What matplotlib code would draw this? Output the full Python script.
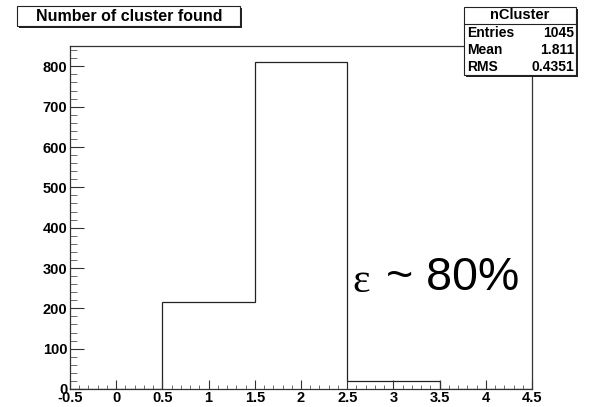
import matplotlib
matplotlib.use("Agg")
import matplotlib.pyplot as plt
from matplotlib.patches import Rectangle
from matplotlib.ticker import MultipleLocator
import numpy as np

# Histogram of the number of clusters found per event
bin_edges = [-0.5, 0.5, 1.5, 2.5, 3.5, 4.5]
counts = [0, 216, 810, 19, 0]
x_ticks = [-0.5, 0, 0.5, 1, 1.5, 2, 2.5, 3, 3.5, 4, 4.5]
x_tick_labels = ["-0.5", "0", "0.5", "1", "1.5", "2", "2.5", "3", "3.5", "4", "4.5"]
y_ticks = [0, 100, 200, 300, 400, 500, 600, 700, 800]

title = "Number of cluster found"
stats_name = "nCluster"
stats_rows = [("Entries", "1045"), ("Mean", "1.811"), ("RMS", "0.4351")]

W, H = 589, 407
fig = plt.figure(figsize=(W / 100, H / 100), dpi=100)
fig.patch.set_facecolor("white")

def fx(px):
    return px / W

def fy(py):
    return 1 - py / H

ax = fig.add_axes([fx(70), fy(389), fx(532) - fx(70), fy(46) - fy(389)])
ax.stairs(counts, bin_edges, color="#222222", linewidth=0.9)
ax.set_xlim(bin_edges[0], bin_edges[-1])
ax.set_ylim(0, max(counts) * 1.05)

sans = ["Liberation Sans", "DejaVu Sans"]
ax.set_xticks(x_ticks)
ax.set_xticklabels(x_tick_labels, fontsize=10.5, fontweight="bold", family=sans)
ax.xaxis.set_minor_locator(MultipleLocator(0.1))
ax.set_yticks(y_ticks)
ax.set_yticklabels([str(v) for v in y_ticks], fontsize=10.5, fontweight="bold", family=sans)
ax.yaxis.set_minor_locator(MultipleLocator(20))
ax.tick_params(axis="x", which="major", direction="in", length=6.5, width=0.8,
               color="#333333", pad=1.5)
ax.tick_params(axis="x", which="minor", direction="in", length=3.2, width=0.6,
               color="#555555")
ax.tick_params(axis="y", which="major", direction="in", length=10, width=0.8,
               color="#333333", pad=2)
ax.tick_params(axis="y", which="minor", direction="in", length=5, width=0.6,
               color="#555555")
for side in ["left", "bottom", "top", "right"]:
    ax.spines[side].set_linewidth(0.9)
    ax.spines[side].set_color("#333333")

# Efficiency annotation
fig.text(fx(352), fy(282), "\u03b5", fontsize=30, family=["Liberation Serif", "DejaVu Serif"],
         va="center", ha="left")
fig.text(fx(386), fy(278), "~ 80%", fontsize=33.5, family=sans, va="center", ha="left")

def shadow_box(x0, y0, x1, y1):
    # drop shadow then white box with black frame
    fig.patches.append(Rectangle((fx(x0) + 2 / W, fy(y1) - 2 / H), fx(x1) - fx(x0),
                                 fy(y0) - fy(y1), transform=fig.transFigure,
                                 facecolor="#222222", edgecolor="none", zorder=5))
    fig.patches.append(Rectangle((fx(x0), fy(y1)), fx(x1) - fx(x0), fy(y0) - fy(y1),
                                 transform=fig.transFigure, facecolor="white",
                                 edgecolor="#222222", linewidth=0.8, zorder=6))

# Title box
shadow_box(17, 6, 240, 26)
fig.text(fx(129), fy(16.5), title, fontsize=11.5, fontweight="bold", family=sans,
         ha="center", va="center", zorder=7)

# Statistics box
shadow_box(464, 7, 576, 75)
fig.lines.append(plt.Line2D([fx(464), fx(576)], [fy(23.5), fy(23.5)], transform=fig.transFigure,
                            color="#222222", linewidth=0.8, zorder=7))
fig.text(fx(520), fy(15), stats_name, fontsize=10.5, fontweight="bold", family=sans,
         ha="center", va="center", zorder=7)
for i, (name, val) in enumerate(stats_rows):
    yy = 33 + i * 17
    fig.text(fx(467), fy(yy), name, fontsize=10, fontweight="bold", family=sans,
             ha="left", va="center", zorder=7)
    fig.text(fx(574), fy(yy), val, fontsize=10, fontweight="bold", family=sans,
             ha="right", va="center", zorder=7)

fig.savefig("out.png", dpi=100)
